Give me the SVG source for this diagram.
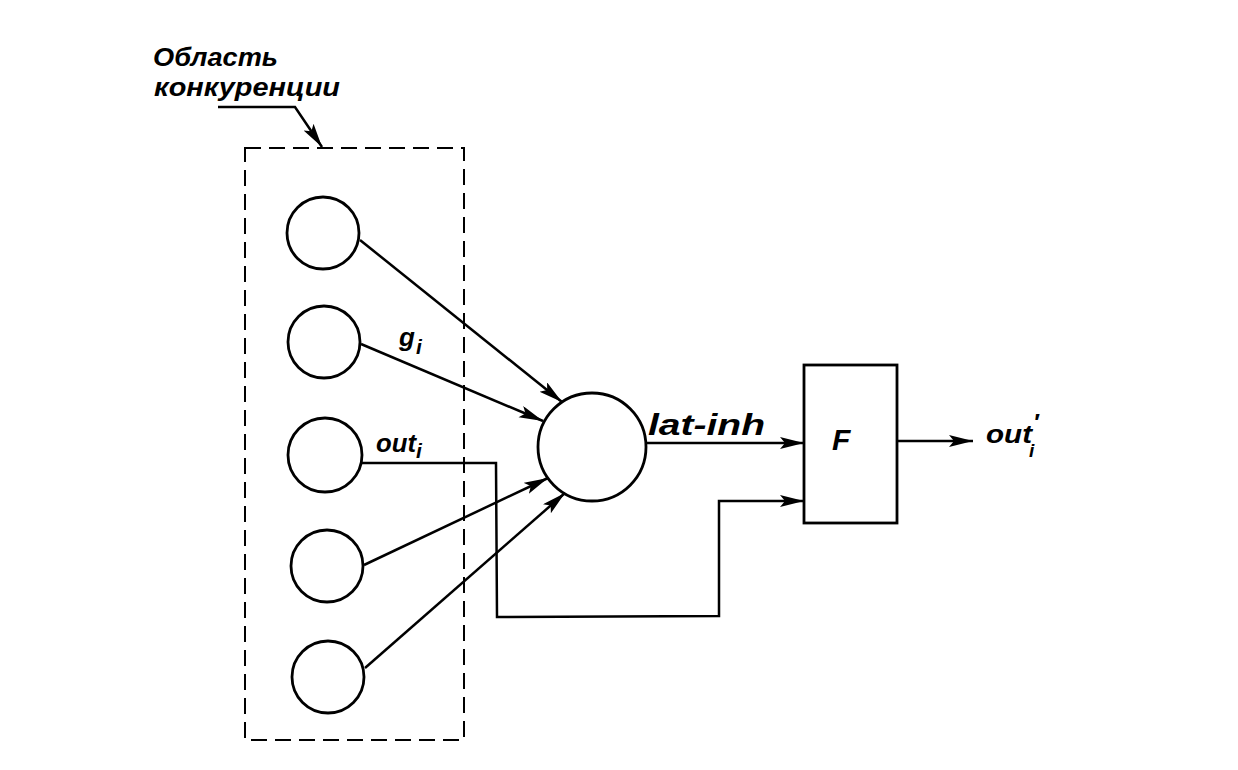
<svg xmlns="http://www.w3.org/2000/svg" width="1238" height="770" viewBox="0 0 1238 770">
<defs>
<style>
.n{fill:none;stroke:#000;stroke-width:2.8}
.c{fill:none;stroke:#000;stroke-width:2.5}
.d{fill:none;stroke:#000;stroke-width:2;stroke-dasharray:16 8}
.t{font-family:"Liberation Sans",Arial,sans-serif;font-style:italic;font-weight:bold;fill:#000}
</style>
<marker id="ah" markerUnits="userSpaceOnUse" markerWidth="26" markerHeight="14" refX="24" refY="6" orient="auto">
<path d="M0,0 L24,6 L0,12 L5,6 z" fill="#000"/>
</marker>
</defs>
<rect width="1238" height="770" fill="#fff"/>
<g id="label-region">
<text class="t" x="153" y="66" font-size="25" textLength="125" lengthAdjust="spacingAndGlyphs">Область</text>
<text class="t" x="154" y="96" font-size="25" textLength="186" lengthAdjust="spacingAndGlyphs">конкуренции</text>
</g>
<g id="region">
<rect class="d" x="245" y="148" width="219" height="592"/>
</g>
<g id="n1"><circle class="n" cx="323" cy="233" r="36"/></g>
<g id="n2"><circle class="n" cx="324" cy="342" r="36"/></g>
<g id="n3"><circle class="n" cx="325" cy="455" r="37"/></g>
<g id="n4"><circle class="n" cx="327" cy="566" r="36"/></g>
<g id="n5"><circle class="n" cx="328" cy="677" r="36"/></g>
<g id="sum"><circle class="n" cx="592" cy="447" r="54"/></g>
<g id="F">
<rect class="n" x="804" y="365" width="93" height="158"/>
<text class="t" x="832" y="450" font-size="30">F</text>
</g>
<g id="connectors">
<polyline class="c" points="218,107 295,107 322,147" marker-end="url(#ah)"/>
<line class="c" x1="360" y1="240" x2="562" y2="402" marker-end="url(#ah)"/>
<line class="c" x1="361" y1="344" x2="543" y2="421" marker-end="url(#ah)"/>
<line class="c" x1="364" y1="565" x2="548" y2="478" marker-end="url(#ah)"/>
<line class="c" x1="365" y1="668" x2="565" y2="493" marker-end="url(#ah)"/>
<polyline class="c" points="362,463 496,463 497,617 719,616 719,501 804,501" marker-end="url(#ah)"/>
<line class="c" x1="646" y1="443" x2="804" y2="443" marker-end="url(#ah)"/>
<line class="c" x1="897" y1="441" x2="973" y2="441" marker-end="url(#ah)"/>
</g>
<g id="labels">
<text class="t" x="399" y="346" font-size="26">g</text>
<text class="t" x="416" y="354" font-size="21">i</text>
<text class="t" x="376" y="452" font-size="26" textLength="40" lengthAdjust="spacingAndGlyphs">out</text>
<text class="t" x="416" y="458" font-size="21">i</text>
<text class="t" x="648" y="435" font-size="30" textLength="117" lengthAdjust="spacingAndGlyphs">lat-inh</text>
<text class="t" x="986" y="443" font-size="25" textLength="46" lengthAdjust="spacingAndGlyphs">out</text>
<text class="t" x="1033" y="431" font-size="24">′</text>
<text class="t" x="1029" y="457" font-size="19">i</text>
</g>
</svg>
